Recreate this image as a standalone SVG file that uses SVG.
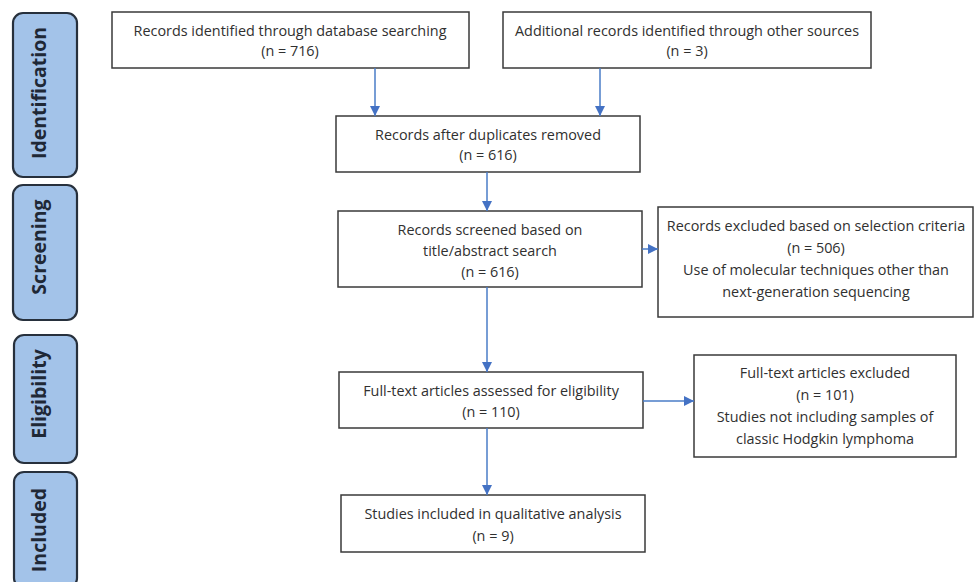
<svg xmlns="http://www.w3.org/2000/svg" width="974" height="582" viewBox="0 0 974 582">
<defs>
<marker id="ah" viewBox="0 0 10 10" refX="10" refY="5" markerWidth="10" markerHeight="10" markerUnits="userSpaceOnUse" orient="auto">
<path d="M0,0 L10,5 L0,10 z" fill="#4472c4"/>
</marker>
</defs>
<style>
.box{fill:#fff;stroke:#3a3a3a;stroke-width:1.5}
.side{fill:#a3c3e9;stroke:#27303c;stroke-width:2.2}
.t{font-family:"Open Sans","Liberation Sans",sans-serif;font-size:14.4px;fill:#303030;text-anchor:middle}
.s{font-family:"Open Sans","Liberation Sans",sans-serif;font-size:19.5px;font-weight:bold;fill:#1f2836;text-anchor:middle}
.c{stroke:#4a7cc7;stroke-width:1.5;fill:none;marker-end:url(#ah)}
</style>
<rect width="974" height="582" fill="#fff"/>
<g id="side-identification"><rect class="side" x="13" y="13" width="64" height="164" rx="10"/><text class="s" transform="translate(46,93) rotate(-90)">Identification</text></g>
<g id="side-screening"><rect class="side" x="13" y="185" width="64" height="135" rx="10"/><text class="s" transform="translate(46,247) rotate(-90)">Screening</text></g>
<g id="side-eligibility"><rect class="side" x="14" y="335" width="63" height="128" rx="10"/><text class="s" transform="translate(46,394) rotate(-90)">Eligibility</text></g>
<g id="side-included"><rect class="side" x="14" y="472" width="63" height="116" rx="10"/><text class="s" transform="translate(46,530) rotate(-90)">Included</text></g>

<g id="n1"><rect class="box" x="112" y="12" width="357" height="56"/><text class="t" x="290" y="36">Records identified through database searching</text><text class="t" x="290" y="56">(n = 716)</text></g>
<g id="n2"><rect class="box" x="503" y="12" width="368" height="56"/><text class="t" x="687" y="36">Additional records identified through other sources</text><text class="t" x="687" y="56">(n = 3)</text></g>
<g id="n3"><rect class="box" x="336" y="116" width="304" height="56"/><text class="t" x="488" y="140">Records after duplicates removed</text><text class="t" x="488" y="160">(n = 616)</text></g>
<g id="n4"><rect class="box" x="338" y="211" width="304" height="76"/><text class="t" x="490" y="235">Records screened based on</text><text class="t" x="490" y="256">title/abstract search</text><text class="t" x="490" y="277">(n = 616)</text></g>
<g id="n5"><rect class="box" x="658" y="207" width="315" height="110"/><text class="t" x="816" y="231">Records excluded based on selection criteria</text><text class="t" x="816" y="253">(n = 506)</text><text class="t" x="816" y="275">Use of molecular techniques other than</text><text class="t" x="816" y="297">next-generation sequencing</text></g>
<g id="n6"><rect class="box" x="339" y="372" width="304" height="56"/><text class="t" x="491" y="396">Full-text articles assessed for eligibility</text><text class="t" x="491" y="417">(n = 110)</text></g>
<g id="n7"><rect class="box" x="694" y="355" width="262" height="102"/><text class="t" x="825" y="378">Full-text articles excluded</text><text class="t" x="825" y="400">(n = 101)</text><text class="t" x="825" y="422">Studies not including samples of</text><text class="t" x="825" y="444">classic Hodgkin lymphoma</text></g>
<g id="n8"><rect class="box" x="341" y="495" width="304" height="57"/><text class="t" x="493" y="519">Studies included in qualitative analysis</text><text class="t" x="493" y="541">(n = 9)</text></g>

<g id="connectors">
<line class="c" x1="375" y1="68" x2="375" y2="116"/>
<line class="c" x1="600" y1="68" x2="600" y2="116"/>
<line class="c" x1="487" y1="172" x2="487" y2="211"/>
<line class="c" x1="642" y1="249" x2="658" y2="249"/>
<line class="c" x1="487" y1="287" x2="487" y2="372"/>
<line class="c" x1="643" y1="401" x2="694" y2="401"/>
<line class="c" x1="487" y1="428" x2="487" y2="495"/>
</g>
</svg>
